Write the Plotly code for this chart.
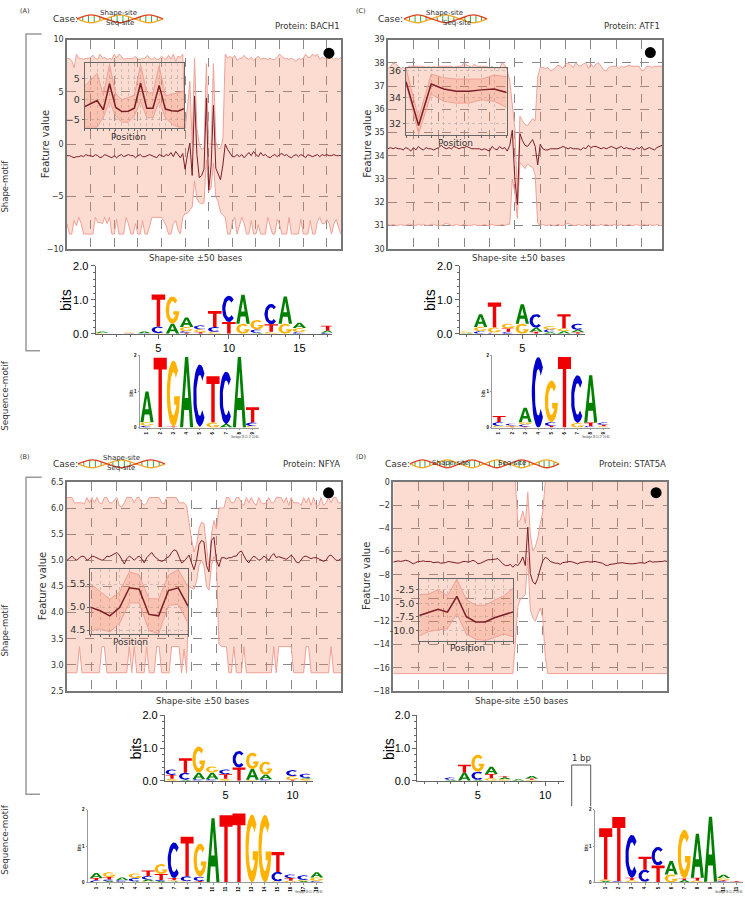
import numpy as np
import plotly.graph_objects as go

W, H = 745, 900

# panel A, BACH1 (shape-site +-50 bases, 17 bp motif)
a_mean = [-1.1,-1.1,-1.2,-1.3,-1.2,-1.2,-1.1,-1.2,-1.0,-1.1,
          -1.1,-1.2,-1.0,-1.1,-1.3,-1.2,-1.0,-1.1,-1.2,-1.3,
          -1.1,-1.3,-1.1,-1.0,-1.2,-1.1,-1.0,-1.1,-1.1,-1.3,
          -1.1,-1.0,-1.2,-1.2,-1.1,-1.0,-1.1,-1.2,-1.3,-1.0,
          -1.1,-1.2,-1.0,-1.1,-0.8,-1.2,-0.7,-1.0,-1.3,-0.9,
          -2.4,-1.0,0.1,-3.0,4.6,-1.0,-3.2,-3.0,-2.4,4.4,
          -4.4,-2.1,3.7,-2.3,-2.9,-3.4,-2.0,0.0,-0.5,-0.9,
          -1.2,-1.2,-1.0,-1.2,-1.0,-1.3,-1.0,-0.8,-1.1,-0.7,
          -1.0,-1.2,-0.8,-1.1,-1.0,-1.2,-1.3,-1.1,-1.0,-1.2,
          -1.0,-0.9,-1.1,-1.0,-1.2,-1.3,-1.1,-1.0,-1.2,-1.0,
          -1.1,-1.3,-1.0,-1.1,-1.2,-1.1,-1.0,-1.2,-1.0,-1.1,
          -1.0,-1.1,-1.1,-1.0,-1.1,-1.1,-1.1]
a_upper = [8.2,8.2,8.0,7.3,8.6,8.2,8.2,8.1,8.2,8.2,
           8.3,8.5,8.2,8.1,8.6,8.2,8.3,8.1,8.2,8.1,
           8.6,8.2,8.6,8.4,8.1,8.2,8.2,8.2,8.2,8.4,
           8.1,8.1,8.2,8.2,8.5,8.2,8.1,8.3,8.1,8.1,
           8.4,8.2,8.1,8.5,8.1,8.6,7.9,8.4,8.3,8.6,
           1.5,3.5,6.0,0.0,8.2,1.5,0.0,-0.5,-0.4,7.7,
           0.0,0.0,7.7,0.2,-0.4,-0.4,0.5,8.6,8.2,8.4,
           8.2,8.5,8.0,8.2,8.2,8.5,8.2,8.1,8.3,8.0,
           8.2,8.4,8.1,8.2,8.2,8.1,8.2,8.1,8.1,8.3,
           8.6,8.4,8.2,8.2,8.1,8.2,8.1,7.9,8.2,8.1,
           8.2,8.6,8.3,8.3,8.6,8.4,8.6,8.1,8.3,8.2,
           8.1,8.2,8.3,8.1,8.2,8.1,8.3]
a_lower = [-7.6,-8.6,-8.6,-7.3,-7.8,-7.0,-7.6,-8.6,-8.6,-8.6,
           -8.6,-8.6,-7.0,-7.5,-7.5,-7.6,-7.0,-7.6,-7.0,-8.6,
           -8.6,-7.2,-8.6,-8.6,-8.6,-7.0,-7.6,-8.6,-8.6,-7.6,
           -8.6,-8.6,-7.3,-8.6,-8.6,-7.8,-7.0,-7.0,-7.0,-7.0,
           -7.0,-7.4,-7.8,-8.6,-8.6,-7.6,-7.3,-8.2,-8.6,-7.0,
           -6.6,-6.6,-6.3,-6.0,-3.5,-5.2,-5.6,-5.7,-5.6,-1.5,
           -4.5,-4.2,-1.8,-5.0,-5.5,-6.5,-6.8,-7.0,-8.6,-8.6,
           -7.5,-7.0,-8.6,-7.8,-7.0,-7.6,-8.6,-8.6,-7.3,-8.6,
           -8.6,-7.7,-8.6,-8.6,-8.6,-7.0,-7.8,-8.6,-8.6,-7.2,
           -7.7,-8.6,-8.6,-8.6,-7.0,-8.6,-8.6,-8.6,-8.6,-7.2,
           -8.6,-8.6,-8.6,-7.3,-8.6,-8.6,-7.4,-7.0,-7.6,-7.6,
           -7.2,-7.6,-8.6,-7.6,-7.2,-8.0,-8.6]
a_in_mean = [-1.8,-1.0,-0.3,-2.6,3.8,-2.0,-3.0,-2.9,-2.2,3.9,-2.2,-2.2,3.4,-2.4,-2.8,-2.9,-2.3]
a_in_upper = [3.2,4.8,6.3,1.1,8.5,1.4,-0.1,0.4,1.0,8.4,1.6,1.6,8.2,0.8,1.2,1.5,2.0]
a_in_lower = [-6.8,-6.8,-6.8,-4.4,-0.5,-4.1,-5.6,-5.6,-4.1,-0.5,-4.5,-4.5,-0.5,-4.5,-6.0,-6.8,-6.8]

# panel C, ATF1 (9 bp motif)
c_mean = [34.3,34.35,34.3,34.35,34.3,34.3,34.25,34.35,34.3,34.2,
          34.35,34.25,34.4,34.3,34.25,34.35,34.3,34.3,34.25,34.3,
          34.35,34.45,34.35,34.3,34.35,34.3,34.4,34.35,34.3,34.35,
          34.35,34.4,34.35,34.3,34.3,34.3,34.3,34.25,34.3,34.25,
          34.2,34.4,34.3,34.25,34.4,34.3,34.35,34.2,34.45,35.1,
          33.0,31.9,34.95,34.65,34.45,34.4,34.55,34.7,34.4,33.6,
          34.5,34.3,34.25,34.25,34.3,34.3,34.3,34.3,34.35,34.4,
          34.35,34.3,34.35,34.3,34.3,34.3,34.25,34.35,34.3,34.45,
          34.35,34.4,34.4,34.35,34.3,34.35,34.3,34.35,34.4,34.35,
          34.3,34.35,34.4,34.3,34.35,34.3,34.3,34.25,34.35,34.3,
          34.4,34.25,34.3,34.35,34.3,34.25,34.35,34.4,34.45]
c_upper = [37.75,37.85,38.0,37.95,37.85,37.75,37.8,37.7,37.85,37.85,
           37.85,37.85,37.85,37.85,37.85,37.8,37.85,37.8,37.85,37.8,
           37.85,37.85,37.85,37.85,37.85,37.85,37.8,37.85,37.85,37.85,
           38.0,37.9,37.85,37.8,37.95,37.85,37.85,37.85,37.85,37.85,
           37.75,37.85,37.75,37.8,37.75,38.0,37.9,37.7,37.2,36.2,
           35.2,32.2,35.7,35.5,35.35,35.3,35.45,35.6,35.5,37.4,
           37.8,37.8,37.75,37.8,37.65,37.7,37.8,37.9,37.85,37.75,
           37.95,38.0,37.9,37.8,38.0,37.9,37.85,37.95,38.0,37.75,
           37.95,37.8,37.95,38.0,37.85,37.7,37.65,37.8,37.85,37.85,
           37.85,37.75,37.85,37.8,37.85,37.9,37.85,37.85,37.85,37.85,
           37.65,37.7,37.85,37.85,37.8,37.85,37.85,37.85,37.85]
c_lower = [31.05,31.0,31.05,31.0,31.0,31.05,31.0,31.0,31.05,31.05,
           31.0,31.0,31.05,31.0,31.05,31.0,31.0,31.05,31.05,31.0,
           31.0,31.0,31.05,31.1,31.05,31.0,31.0,31.05,31.0,31.0,
           31.05,31.0,31.0,31.0,31.05,31.0,31.0,31.0,31.05,31.0,
           31.0,31.05,31.0,31.0,31.0,31.05,31.0,31.05,31.05,33.0,
           32.4,31.3,33.7,33.6,33.45,33.65,33.55,33.5,33.2,31.1,
           31.0,31.05,31.0,31.0,31.05,31.0,31.0,31.05,31.0,31.0,
           31.05,31.1,31.05,31.0,31.0,31.05,31.0,31.0,31.05,31.0,
           31.0,31.05,31.0,31.0,31.05,31.0,31.05,31.0,31.0,31.05,
           31.0,31.0,31.05,31.0,31.0,31.05,31.0,31.0,31.05,31.0,
           31.0,31.05,31.0,31.05,31.0,31.0,31.05,31.0,31.0]
c_in_mean = [35.18,31.87,35.0,34.63,34.46,34.46,34.56,34.63,34.36]
c_in_upper = [36.2,32.45,35.75,35.48,35.38,35.38,35.38,35.68,35.55]
c_in_lower = [35.06,31.25,34.24,33.7,33.56,33.56,33.81,33.7,33.24]

# panel B, NFYA (11 bp motif)
b_mean = [5.0,5.05,5.08,5.03,5.0,5.05,5.08,5.07,5.0,5.03,
          5.08,5.07,5.05,5.03,5.0,5.02,5.08,5.07,5.1,5.13,
          5.15,5.1,5.0,4.93,5.03,5.08,5.05,5.0,5.05,5.08,
          5.03,4.95,5.05,5.1,5.15,5.08,5.03,5.0,4.98,5.0,
          5.05,5.07,5.15,5.2,5.18,5.05,4.95,4.98,5.05,5.1,
          4.95,4.82,5.0,5.3,5.38,5.35,4.9,4.78,5.38,5.44,
          5.0,4.88,5.05,5.05,5.03,5.05,5.05,5.08,5.08,5.15,
          5.18,5.1,5.0,4.95,5.03,5.08,5.05,5.0,5.02,5.08,
          5.05,5.0,5.08,5.13,5.05,5.07,5.05,5.03,5.02,5.05,
          5.1,5.05,4.97,4.95,5.0,5.07,5.08,5.05,5.03,5.05,
          5.05,5.03,5.0,4.98,5.0,5.08,5.1,5.05,5.0,5.0,5.03]
b_upper = [6.2,6.2,6.2,6.1,6.1,6.1,6.1,6.08,6.2,6.1,
           6.2,6.1,6.2,6.1,6.08,6.2,6.2,6.1,6.1,6.15,
           6.2,6.05,6.02,6.1,6.2,6.2,6.2,6.1,6.2,6.2,
           6.1,6.05,6.1,6.2,6.2,6.2,6.2,6.2,6.1,6.08,
           6.2,6.2,6.2,6.2,6.2,6.1,6.1,6.1,6.05,5.7,
           5.4,5.16,5.3,5.6,5.73,5.7,5.2,4.85,5.5,5.76,
           5.6,6.0,6.0,6.0,6.2,6.2,6.1,6.1,6.2,6.2,
           6.1,6.05,6.2,6.1,6.2,6.1,6.05,6.2,6.1,6.08,
           6.1,6.2,6.1,6.1,6.2,6.2,6.2,6.1,6.2,6.05,
           6.2,6.1,6.1,6.1,6.05,6.2,6.1,6.2,6.05,6.2,
           6.05,6.05,6.2,6.05,6.1,6.2,6.1,6.2,6.2,6.1,6.1]
b_lower = [2.85,2.85,2.85,2.85,2.85,3.35,2.85,2.85,2.85,2.85,
           2.85,2.85,2.85,2.85,3.35,3.35,2.85,2.85,2.85,2.85,
           2.85,2.85,2.85,2.85,2.85,3.35,2.85,3.35,2.85,2.85,
           2.85,2.85,3.35,2.85,2.85,2.85,3.35,3.35,2.85,2.85,
           2.85,2.85,3.35,3.35,3.35,3.35,2.85,3.3,2.85,4.5,
           4.47,4.45,4.6,4.9,5.0,4.9,4.5,4.43,4.9,5.07,
           4.95,3.4,3.35,3.35,3.35,2.85,2.85,3.35,2.85,2.85,
           2.85,3.35,2.85,2.85,2.85,2.85,2.85,2.85,2.85,2.85,
           2.85,2.85,2.85,3.35,2.85,3.35,3.35,3.35,3.35,3.35,
           3.35,2.85,2.85,2.85,2.85,2.85,3.35,3.35,2.85,2.85,
           2.85,2.85,2.85,2.85,2.85,2.85,3.35,2.85,2.85,2.85,2.85]
b_in_mean = [5.0,4.92,4.81,4.99,5.42,5.39,4.84,4.81,5.36,5.42,5.02]
b_in_upper = [5.51,5.33,5.17,5.33,5.77,5.70,5.18,5.18,5.70,5.81,5.44]
b_in_lower = [4.48,4.53,4.46,4.65,5.09,5.09,4.49,4.42,5.04,5.06,4.65]

# panel D, STAT5A (11 bp motif)
d_mean = [-6.9,-6.85,-6.8,-6.85,-6.8,-6.75,-6.8,-6.9,-7.05,-6.95,
          -6.85,-6.85,-6.8,-6.85,-6.85,-6.85,-6.95,-6.95,-6.9,-7.0,
          -7.0,-6.95,-6.85,-6.9,-6.95,-7.0,-7.0,-6.95,-6.85,-6.85,
          -6.9,-6.85,-6.75,-6.85,-7.05,-7.0,-6.9,-6.8,-6.7,-6.7,
          -6.7,-6.65,-6.6,-6.85,-7.05,-7.2,-7.2,-7.1,-7.35,-7.1,
          -7.2,-6.9,-6.46,-7.2,-3.9,-7.9,-8.6,-8.8,-8.3,-7.5,
          -6.8,-6.5,-6.6,-6.85,-6.95,-7.0,-7.0,-7.1,-6.95,-6.9,
          -6.85,-6.85,-6.9,-6.95,-7.05,-6.95,-6.9,-6.9,-6.85,-6.9,
          -6.85,-6.85,-6.9,-6.95,-7.0,-7.15,-7.2,-7.1,-7.1,-7.05,
          -7.0,-6.95,-6.95,-7.0,-7.05,-7.05,-7.05,-7.05,-7.0,-6.95,
          -6.95,-7.0,-6.9,-6.8,-6.9,-6.9,-6.85,-6.9,-6.85,-6.8,-6.85]
d_upper = [0.5] * 49 + [0.0,-3.5,-3.3,-2.5,-3.6,-0.9,-4.5,-5.95,-5.6,-4.8,-3.6,-2.6,0.0] + [0.5] * 49
d_lower = [-16.5] * 49 + [-13.8,-10.7,-10.1,-9.9,-9.7,-6.5,-11.0,-11.7,-12.0,-11.4,-10.85,-11.7,-15.0] + [-16.5] * 49
d_in_mean = [-7.26,-6.65,-6.1,-6.65,-3.72,-7.5,-8.48,-8.48,-7.68,-7.13,-6.6]
d_in_upper = [-3.41,-3.29,-2.5,-3.6,-0.55,-4.33,-5.37,-5.37,-4.45,-3.6,-2.2]
d_in_lower = [-11.04,-10.24,-9.94,-9.7,-6.89,-10.73,-11.65,-11.95,-11.34,-10.73,-11.2]

# sequence logos, one stack per position, bottom to top: (letter, bits)
a_shape_logo = [[("G",.03),("A",.04)],[],[("C",.02),("G",.02)],[("C",.02),("A",.05)],
                [("G",.02),("C",.2),("T",.94)],[("A",.3),("G",.8)],
                [("T",.03),("C",.05),("G",.12),("A",.28)],[("T",.05),("G",.08),("C",.12)],
                [("G",.06),("C",.14),("T",.47)],[("T",.35),("C",.77)],[("G",.3),("A",.85)],
                [("A",.03),("C",.1),("G",.28)],[("G",.06),("T",.22),("C",.6)],[("G",.3),("A",.8)],
                [("C",.05),("G",.12),("A",.16)],[],[("C",.03),("A",.06),("T",.15)]]
a_seq_logo = [[("C",.05),("G",.1),("A",.85)],[("G",.02),("T",1.91)],[("T",.03),("G",1.82)],[("A",1.95)],
              [("G",.03),("C",1.72)],[("G",.14),("T",1.28)],[("A",.1),("C",1.45)],[("A",1.95)],
              [("G",.04),("C",.1),("T",.42)]]
c_shape_logo = [[("A",.03),("G",.04)],[("C",.08),("G",.12),("A",.38)],[("C",.04),("G",.15),("T",.73)],
                [("C",.06),("T",.1),("G",.14)],[("G",.3),("A",.57)],[("T",.06),("A",.12),("C",.4)],
                [("A",.05),("C",.08),("G",.1)],[("A",.08),("G",.08),("T",.42)],[("T",.05),("A",.07),("C",.18)]]
c_seq_logo = [[("G",.05),("C",.1),("T",.17)],[("T",.03),("G",.03),("C",.05)],
              [("T",.03),("C",.06),("G",.06),("A",.4)],[("C",1.95)],[("T",.05),("C",.1),("G",1.15)],
              [("T",1.95)],[("G",.13),("C",1.32)],[("C",.04),("T",.1),("A",1.31)],[("G",.04),("T",.04),("C",.06)]]
b_shape_logo = [[("G",.06),("T",.12),("C",.17)],[("A",.03),("C",.22),("T",.44)],[("C",.05),("A",.2),("G",.8)],
                [("C",.05),("A",.2),("G",.19)],[("G",.06),("T",.14),("C",.15)],[("T",.41),("C",.5)],
                [("G",.03),("A",.33),("G",.5)],[("C",.05),("A",.14),("G",.4)],[],
                [("T",.03),("G",.11),("C",.19)],[("G",.06),("A",.03),("C",.13)]]
b_seq_logo = [[("C",.06),("T",.06),("A",.14)],[("A",.04),("C",.04),("T",.07),("G",.13)],
              [("G",.02),("C",.04),("A",.08)],[("A",.03),("C",.09),("G",.13)],
              [("G",.03),("A",.05),("C",.1),("T",.15)],[("A",.04),("C",.03),("T",.16),("G",.28)],
              [("A",.03),("G",.03),("T",.06),("C",.98)],[("G",.03),("C",.14),("T",1.09)],
              [("T",.04),("C",.12),("G",.91)],[("A",1.77)],[("T",1.85)],[("T",1.9)],[("G",1.87)],[("G",1.86)],
              [("G",.03),("C",.26),("T",.55)],[("G",.05),("T",.07),("C",.1)],[("A",.04),("G",.03),("C",.13)],
              [("C",.04),("G",.1),("A",.14)]]
d_shape_logo = [[],[],[("A",.03),("C",.07)],[("A",.25),("T",.24)],[("A",.03),("C",.25),("G",.52)],
                [("G",.08),("T",.13),("A",.22)],[("G",.05),("A",.05),("T",.04)],[("A",.05)],
                [("G",.03),("T",.04),("A",.08)]]
d_seq_logo = [[("A",.04),("G",.04),("T",1.41)],[("C",.03),("T",1.77)],[("G",.06),("T",.07),("C",1.18)],
              [("G",.02),("C",.33),("T",.36)],[("T",.47),("C",.51)],[("G",.22),("A",.37)],
              [("A",.06),("T",.05),("G",1.34)],[("G",.05),("T",.08),("A",1.21)],[("G",.02),("A",1.79)],
              [("C",.03),("T",.03),("G",.06),("A",.09)],[("T",.03)]]

BAND = "rgba(244,128,90,0.28)"
BAND_LINE = "rgb(240,160,150)"
MEAN = "#7b1d26"
FRAME = "#777777"
TEXT = "#333333"
DEJAVU = "DejaVu Sans"
LIBER = "Liberation Sans"
LETTER_COLORS = {"A": "#008000", "C": "#0000CC", "G": "#FFB300", "T": "#F00000"}


def arc(rx, ry, start, end):
    t = np.radians(np.linspace(start, end, 28))
    return list(zip(0.5 + rx * np.cos(t), 0.5 + ry * np.sin(t)))


GLYPHS = {
    "T": [(0, 1), (1, 1), (1, .83), (.63, .83), (.63, 0), (.37, 0), (.37, .83), (0, .83)],
    "A": [(0, 0), (.38, 1), (.62, 1), (1, 0), (.76, 0), (.68, .25), (.64, .42), (.5, .8), (.36, .42),
          (.64, .42), (.68, .25), (.32, .25), (.24, 0)],
    "C": arc(.5, .5, 45, 315) + arc(.26, .33, 315, 45),
    "G": arc(.5, .5, 45, 360) + [(1, .46), (.56, .46), (.56, .33), (.76, .33)] + arc(.26, .33, 340, 45),
}

fig = go.Figure()
n_axes = 0


def xd(px):
    return px / W


def yd(py):
    return 1 - py / H


def add_axes(x0, x1, top, bottom, xcfg, ycfg):
    global n_axes
    n_axes += 1
    tag = "" if n_axes == 1 else str(n_axes)
    fig.layout["xaxis" + tag] = dict(domain=[xd(x0), xd(x1)], anchor="y" + tag, **xcfg)
    fig.layout["yaxis" + tag] = dict(domain=[yd(bottom), yd(top)], anchor="x" + tag, **ycfg)
    return "x" + tag, "y" + tag


def txt(x, y, text, size, angle=0, anchor="center", color=TEXT, family=DEJAVU):
    fig.add_annotation(x=xd(x), y=yd(y), xref="paper", yref="paper", text=text, showarrow=False,
                       xanchor=anchor, yanchor="middle", textangle=angle,
                       font=dict(size=size, color=color, family=family))


def band(xa, ya, mean, upper, lower, mean_width):
    xs = list(range(len(mean)))
    fig.add_trace(go.Scatter(x=xs + xs[::-1], y=upper + lower[::-1], xaxis=xa, yaxis=ya, fill="toself",
                             fillcolor=BAND, mode="none", hoverinfo="skip"))
    for vals, col, width in [(upper, BAND_LINE, 1), (lower, BAND_LINE, 1), (mean, MEAN, mean_width)]:
        fig.add_trace(go.Scatter(x=xs, y=vals, xaxis=xa, yaxis=ya, mode="lines",
                                 line=dict(color=col, width=width)))


def main_panel(box, ticks, fmt, mean, upper, lower, dot):
    x0, x1, top, bottom = box
    xa, ya = add_axes(
        x0, x1, top, bottom,
        dict(range=[0, len(mean) - 1], tick0=0, dtick=10, showticklabels=False, ticks="",
             showgrid=True, griddash="dash", gridcolor="#888888", gridwidth=1, zeroline=False,
             showline=True, mirror=True, linecolor=FRAME, linewidth=1.5),
        dict(range=[ticks[0], ticks[-1]], tickvals=ticks, tickformat=fmt, ticks="",
             tickfont=dict(size=8, color=TEXT, family=DEJAVU),
             showgrid=True, griddash="dash", gridcolor="#888888", gridwidth=1, zeroline=False,
             showline=True, mirror=True, linecolor=FRAME, linewidth=1.5))
    band(xa, ya, mean, upper, lower, 1)
    fig.add_trace(go.Scatter(x=[dot[0]], y=[dot[1]], xaxis=xa, yaxis=ya, mode="markers",
                             marker=dict(color="black", size=11)))


def inset(box, yrange, tickvals, ticktext, mean, upper, lower):
    x0, x1, top, bottom = box
    grid = dict(showgrid=True, griddash="dot", gridcolor="rgba(150,150,150,0.45)", gridwidth=1,
                zeroline=False, showline=True, mirror=True, linecolor="#666666", linewidth=1)
    xa, ya = add_axes(
        x0, x1, top, bottom,
        dict(range=[0, len(mean) - 1], dtick=1, showticklabels=False, ticks="outside", ticklen=2,
             tickcolor="#666666", **grid),
        dict(range=yrange, tickvals=tickvals, ticktext=ticktext, ticks="outside", ticklen=2,
             tickcolor="#666666", tickfont=dict(size=9.5, color=TEXT, family=DEJAVU), **grid))
    band(xa, ya, mean, upper, lower, 1.5)


def draw_logo(xa, ya, stacks, width):
    parts = {k: ([], []) for k in GLYPHS}
    for i, stack in enumerate(stacks):
        base = 0
        for letter, bits in stack:
            xs, ys = parts[letter]
            for gx, gy in GLYPHS[letter]:
                xs.append(i + 1 + (gx - 0.5) * width)
                ys.append(base + gy * bits)
            xs.append(None)
            ys.append(None)
            base += bits
    for letter, (xs, ys) in parts.items():
        if xs:
            fig.add_trace(go.Scatter(x=xs, y=ys, xaxis=xa, yaxis=ya, mode="lines", fill="toself",
                                     fillcolor=LETTER_COLORS[letter], line=dict(width=0),
                                     hoverinfo="skip"))


def shape_logo(axis_x, end_x, zero_y, two_y, pos1, step, ticks, stacks):
    axis = dict(showgrid=False, zeroline=False, showline=True, linecolor="#666666", linewidth=1.2,
                ticks="outside", ticklen=4, tickcolor="#666666")
    xa, ya = add_axes(
        axis_x, end_x, two_y, zero_y,
        dict(range=[1 + (axis_x - pos1) / step, 1 + (end_x - pos1) / step], tickvals=ticks,
             tickfont=dict(size=11, color="black", family=LIBER), **axis,
             minor=dict(dtick=1, tick0=0, ticks="outside", ticklen=2, tickcolor="#666666")),
        dict(range=[0, 2], tickvals=[0, 1, 2], tickformat=".1f",
             tickfont=dict(size=11, color="black", family=LIBER), **axis,
             minor=dict(dtick=0.2, tick0=0, ticks="outside", ticklen=2, tickcolor="#666666")))
    draw_logo(xa, ya, stacks, 0.96)
    txt(axis_x - 29, (zero_y + two_y) / 2 + 0.5, "bits", 14, angle=-90, color="black", family=LIBER)


def seq_logo(axis_x, zero_y, two_y, pos1, step, stacks):
    end_x = pos1 + step * (len(stacks) - 0.5)
    axis = dict(showgrid=False, zeroline=False, showline=True, linecolor="#999999", linewidth=1,
                ticks="outside", ticklen=1.5, tickcolor="#999999")
    xa, ya = add_axes(
        axis_x, end_x, two_y, zero_y,
        dict(range=[1 + (axis_x - pos1) / step, 1 + (end_x - pos1) / step], tickvals=list(range(1, len(stacks) + 1)),
             tickangle=-90, tickfont=dict(size=4.5, color="black", family=LIBER, weight="bold"), **axis),
        dict(range=[0, 2], tickvals=[0, 1, 2], tickfont=dict(size=4.5, color="black", family=LIBER, weight="bold"), **axis))
    draw_logo(xa, ya, stacks, 1.0)
    txt(axis_x - 9, (zero_y + two_y) / 2 + 1, "bits", 4.5, angle=-90, color="black", family=LIBER)
    txt(end_x + 2, zero_y + 10, "Geslogo 18.11.17 10:30", 2.6, anchor="right", color="#333333", family=LIBER)


# case icons: two strands through crest / trough control points, green rungs between them
helix_spans = [(77, 163, 13, 3), (404, 487, 13, 3), (78, 165, 464, 3), (410, 559, 464, 6)]
rung_fractions = [.2, .4, .6, .8]
rung_heights = [.55, .95, .95, .55]


def helix(xa, ya, x0, x1, yc, turns, amp=4):
    step = (x1 - x0) / (2 * turns)
    knots = [x0 + k * step for k in range(2 * turns + 1)]
    sign = [0 if k % 2 == 0 else (1 if k % 4 == 1 else -1) for k in range(2 * turns + 1)]
    rx, ry = [], []
    for t in range(turns):
        for f, h in zip(rung_fractions, rung_heights):
            xr = x0 + (t + f) * 2 * step
            rx += [xr, xr, None]
            ry += [yc - h * amp, yc + h * amp, None]
    fig.add_trace(go.Scatter(x=rx, y=ry, xaxis=xa, yaxis=ya, mode="lines", line=dict(color="#45b045", width=1.1)))
    for col, s in [("#f5a623", 1), ("#e2401c", -1)]:
        fig.add_trace(go.Scatter(x=knots, y=[yc + s * g * amp for g in sign], xaxis=xa, yaxis=ya, mode="lines",
                                 line=dict(color=col, width=1.4, shape="spline", smoothing=1.0)))


# main panels
main_panel((67, 341, 34, 246), [-10, -5, 0, 5, 10], "d", a_mean, a_upper, a_lower, (110.9, 8.7))
main_panel((388, 662, 34, 246), list(range(30, 40)), "d", c_mean, c_upper, c_lower, (103.4, 38.44))
main_panel((67, 341, 482.3, 694.3), [2.5, 3, 3.5, 4, 4.5, 5, 5.5, 6, 6.5], ".1f", b_mean, b_upper, b_lower, (105, 6.29))
main_panel((393.3, 667.3, 482.3, 694.3), list(range(-18, 2, 2)), "d", d_mean, d_upper, d_lower, (105.5, -0.93))

# insets
inset((84.7, 184, 58, 124), [-7.1, 8.8], [-5, 0, 5], ["\u22125", "0", "5"], a_in_mean, a_in_upper, a_in_lower)
inset((406, 506.7, 63.3, 130.7), [31.15, 36.18], [32, 34, 36], ["32", "34", "36"], c_in_mean, c_in_upper, c_in_lower)
inset((90.3, 188, 571, 636.7), [4.41, 5.82], [4.5, 5.0, 5.5], ["4.5", "5.0", "5.5"], b_in_mean, b_in_upper, b_in_lower)
inset((419.3, 513.3, 580.7, 643.3), [-11.95, -0.49], [-10, -7.5, -5, -2.5], ["-10.0", "-7.5", "-5.0", "-2.5"],
      d_in_mean, d_in_upper, d_in_lower)

# logos
shape_logo(95.7, 331.7, 332.3, 263.3, 102, 14.1, [5, 10, 15], a_shape_logo)
shape_logo(459.7, 585, 332.3, 263.3, 466.7, 13.9, [5], c_shape_logo)
shape_logo(165, 312.7, 785.3, 719, 172, 13.4, [5, 10], b_shape_logo)
shape_logo(417.3, 564.3, 785.3, 719, 424, 13.47, [5, 10], d_shape_logo)
seq_logo(140, 427.3, 354, 147, 13.2, a_seq_logo)
seq_logo(492.3, 427.3, 354, 499, 13.1, c_seq_logo)
seq_logo(88, 888.3, 814.7, 96.3, 12.97, b_seq_logo)
seq_logo(595, 888.3, 814.7, 605.7, 13.1, d_seq_logo)

# overlay axes in page pixels for the case icons
hx, hy = add_axes(0, W, 0, H, dict(range=[0, W], visible=False), dict(range=[H, 0], visible=False))
for span in helix_spans:
    helix(hx, hy, *span)

# brackets
for path in ["M {} {} L {} {} L {} {} L {} {}".format(xd(41.7), yd(28.3), xd(26), yd(28.3), xd(26), yd(349.3), xd(40), yd(349.3)),
             "M {} {} L {} {} L {} {} L {} {}".format(xd(41.7), yd(477.7), xd(26), yd(477.7), xd(26), yd(799), xd(40), yd(799))]:
    fig.add_shape(type="path", path=path, xref="paper", yref="paper", line=dict(color="#999999", width=1.5))
fig.add_shape(type="path", xref="paper", yref="paper", line=dict(color="#555555", width=1),
              path="M {} {} L {} {} L {} {} L {} {}".format(xd(571.7), yd(811), xd(571.7), yd(769.3), xd(590.7), yd(769.3), xd(590.7), yd(811)))

# text
for label, x, y in [("(A)", 25, 5), ("(C)", 361, 5), ("(B)", 25, 457), ("(D)", 361, 457)]:
    txt(x, y, label, 6.5)
for x, y in [(51, 13), (376, 13), (51, 464), (382.7, 464)]:
    txt(x, y, "Case:", 9, anchor="left")
for label, x, y in [("Protein: BACH1", 342, 20), ("Protein: ATF1", 661.7, 20),
                    ("Protein: NFYA", 342, 464), ("Protein: STAT5A", 667.5, 464)]:
    txt(x, y, label, 8.5, anchor="right")
for label, x, y in [("Shape-site", 118, 7), ("Seq-site", 119.5, 17.5), ("Shape-site", 444, 7), ("Seq-site", 457, 17.5),
                    ("Shape-site", 121, 458), ("Seq-site", 121, 468.5), ("Shape-site", 450.7, 463), ("Seq-site", 511.7, 463)]:
    txt(x, y, label, 7)
for x, y in [(196, 255), (519, 255), (203, 704), (521.7, 704)]:
    txt(x, y, "Shape-site \u00b150 bases", 8.5)
for x, y in [(45, 140), (366.7, 140), (42, 588), (366.7, 578)]:
    txt(x, y, "Feature value", 10, angle=-90)
for x, y in [(128, 133), (455.7, 139), (130, 645), (467.7, 651)]:
    txt(x, y, "Position", 9)
for y in [183, 633]:
    txt(5, y, "Shape-motif", 8.5, angle=-90)
for y in [395, 845]:
    txt(5, y, "Sequence-motif", 8.8, angle=-90)
txt(581, 762, "1 bp", 8.5)

fig.update_layout(width=W, height=H, autosize=False, margin=dict(l=0, r=0, t=0, b=0), showlegend=False,
                  paper_bgcolor="white", plot_bgcolor="rgba(0,0,0,0)", hovermode=False)

fig.write_html("out.html", config={"displayModeBar": False},
               post_script="document.body.style.margin='0';document.body.style.overflow='hidden';")
